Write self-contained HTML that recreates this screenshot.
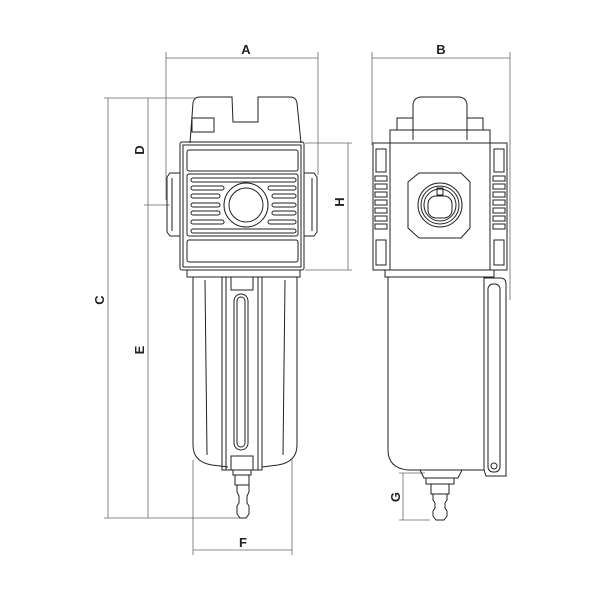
<!DOCTYPE html>
<html><head><meta charset="utf-8"><style>
html,body{margin:0;padding:0;background:#fff;}
svg{display:block}
text{font-family:"Liberation Sans",sans-serif;font-weight:bold;font-size:13px;fill:#222;text-anchor:middle}
</style></head><body>
<svg width="600" height="600" viewBox="0 0 600 600" xmlns="http://www.w3.org/2000/svg">
<g fill="none" stroke="#666" stroke-width="0.8">
<!-- dimension lines front -->
<line x1="166" y1="58" x2="318" y2="58"/>
<line x1="166" y1="52" x2="166" y2="200"/>
<line x1="318" y1="52" x2="318" y2="175"/>
<line x1="104" y1="98" x2="195" y2="98"/>
<line x1="104" y1="518" x2="245" y2="518"/>
<line x1="108" y1="98" x2="108" y2="518"/>
<line x1="148" y1="98" x2="148" y2="518"/>
<line x1="144" y1="205" x2="170" y2="205"/>
<line x1="193" y1="550" x2="292" y2="550"/>
<line x1="193" y1="460" x2="193" y2="555"/>
<line x1="292" y1="460" x2="292" y2="555"/>
<line x1="305" y1="143" x2="352" y2="143"/>
<line x1="305" y1="270" x2="352" y2="270"/>
<line x1="348" y1="143" x2="348" y2="270"/>
<!-- side dims -->
<line x1="372" y1="58" x2="510" y2="58"/>
<line x1="372" y1="52" x2="372" y2="145"/>
<line x1="510" y1="52" x2="510" y2="300"/>
<line x1="403" y1="473" x2="403" y2="520"/>
<line x1="399" y1="473" x2="425" y2="473"/>
<line x1="399" y1="520" x2="430" y2="520"/>
</g>
<text x="246" y="54">A</text>
<text x="441" y="54">B</text>
<text transform="translate(104,300) rotate(-90)">C</text>
<text transform="translate(144,150) rotate(-90)">D</text>
<text transform="translate(144,350) rotate(-90)">E</text>
<text x="243" y="547">F</text>
<text transform="translate(400,497) rotate(-90)">G</text>
<text transform="translate(344,202) rotate(-90)">H</text>

<g fill="none" stroke="#222" stroke-width="1">
<!-- FRONT VIEW -->
<path d="M190 143 L193 103 Q194 97 200 97 L232 97 L233 122 L258 122 L258 97 L290 97 Q296 97 297 103 L301 143"/>
<rect x="192" y="118" width="22" height="14"/>
<rect x="180" y="142" width="124" height="128" rx="2"/>
<rect x="183" y="145" width="118" height="122"/>
<rect x="187" y="150" width="111" height="21" rx="2"/>
<rect x="187" y="174" width="111" height="62" rx="2"/>
<rect x="187" y="240" width="111" height="22" rx="2"/>
<circle cx="246" cy="205" r="22"/>
<circle cx="246" cy="205" r="17"/>
<rect x="191" y="178" width="105" height="4" rx="2"/>
<rect x="191" y="229" width="105" height="4" rx="2"/>
<rect x="191" y="186" width="33" height="4" rx="2"/><rect x="268" y="186" width="28" height="4" rx="2"/>
<rect x="191" y="194" width="29" height="4" rx="2"/><rect x="272" y="194" width="24" height="4" rx="2"/>
<rect x="191" y="203" width="29" height="4" rx="2"/><rect x="272" y="203" width="24" height="4" rx="2"/>
<rect x="191" y="211" width="29" height="4" rx="2"/><rect x="272" y="211" width="24" height="4" rx="2"/>
<rect x="191" y="220" width="33" height="4" rx="2"/><rect x="268" y="220" width="28" height="4" rx="2"/>
<path d="M180 173 L170 173 L167 177 L167 232 L170 236 L180 236"/>
<line x1="172" y1="178" x2="172" y2="231"/>
<path d="M304 173 L314 173 L317 177 L317 232 L314 236 L304 236"/>
<line x1="312" y1="178" x2="312" y2="231"/>
<path d="M187 270 L187 277 L300 277 L300 270"/>
<path d="M193 277 L193 445 Q193 462 212 465 L228 467"/>
<path d="M297 277 L297 445 Q297 462 278 465 L262 467"/>
<line x1="205" y1="280" x2="207" y2="455"/>
<line x1="285" y1="280" x2="283" y2="455"/>
<path d="M222 277 L222 470 L262 470 L262 277"/>
<path d="M226 277 L226 470 M258 277 L258 470"/>
<path d="M231 277 L231 290 L253 290 L253 277"/>
<rect x="234" y="294" width="14" height="156" rx="7"/>
<rect x="237" y="297" width="8" height="150" rx="4"/>
<rect x="231" y="456" width="22" height="14"/>
<rect x="233" y="470" width="18" height="5"/>
<rect x="235" y="475" width="14" height="10"/>
<path d="M237 485 L237 492 L239 496 L239 503 L237 506 L237 514 L240 518 L246 518 L249 514 L249 506 L247 503 L247 496 L249 492 L249 485"/>

<!-- SIDE VIEW -->
<path d="M413 140 L413 106 Q413 97 422 97 L458 97 Q467 97 467 106 L467 140"/>
<rect x="397" y="118" width="16" height="12"/>
<rect x="467" y="118" width="16" height="12"/>
<path d="M390 143 L390 130 L490 130 L490 143"/>
<rect x="390" y="143" width="100" height="127"/>
<rect x="373" y="143" width="17" height="127"/>
<rect x="490" y="143" width="17" height="127"/>
<path d="M376 149 L386 149 L386 172 L376 172 Z M376 240 L386 240 L386 265 L376 265 Z"/>
<path d="M494 149 L504 149 L504 172 L494 172 Z M494 240 L504 240 L504 265 L494 265 Z"/>
<g>
<rect x="375" y="176" width="12" height="5"/><rect x="375" y="184" width="12" height="5"/><rect x="375" y="192" width="12" height="5"/>
<rect x="375" y="200" width="12" height="5"/><rect x="375" y="208" width="12" height="5"/><rect x="375" y="216" width="12" height="5"/><rect x="375" y="224" width="12" height="5"/>
<rect x="493" y="176" width="12" height="5"/><rect x="493" y="184" width="12" height="5"/><rect x="493" y="192" width="12" height="5"/>
<rect x="493" y="200" width="12" height="5"/><rect x="493" y="208" width="12" height="5"/><rect x="493" y="216" width="12" height="5"/><rect x="493" y="224" width="12" height="5"/>
</g>
<path d="M419 173 L461 173 L470 182 L470 228 L461 238 L419 238 L408 228 L408 182 Z"/>
<circle cx="440" cy="205" r="22"/>
<circle cx="440" cy="205" r="19"/>
<circle cx="440" cy="205" r="16"/>
<rect x="428" y="196" width="24" height="22" rx="8"/>
<rect x="437" y="188" width="6" height="7"/>
<path d="M385 270 L385 277 L494 277 L494 270"/>
<path d="M388 277 L388 450 Q388 468 408 470 L484 470"/>
<line x1="484" y1="277" x2="484" y2="470"/>
<path d="M484 278 L500 278 Q506 278 506 284 L506 476 L486 476 L484 470"/>
<rect x="488" y="284" width="12" height="188" rx="5"/>
<circle cx="494" cy="466" r="3"/>
<path d="M420 470 L424 478 L458 478 L462 470"/>
<rect x="426" y="478" width="28" height="6"/>
<rect x="431" y="484" width="18" height="10"/>
<path d="M433 494 L433 500 L435 503 L435 508 L433 511 L433 516 L436 520 L444 520 L447 516 L447 511 L445 508 L445 503 L447 500 L447 494"/>
</g>
</svg>
</body></html>
